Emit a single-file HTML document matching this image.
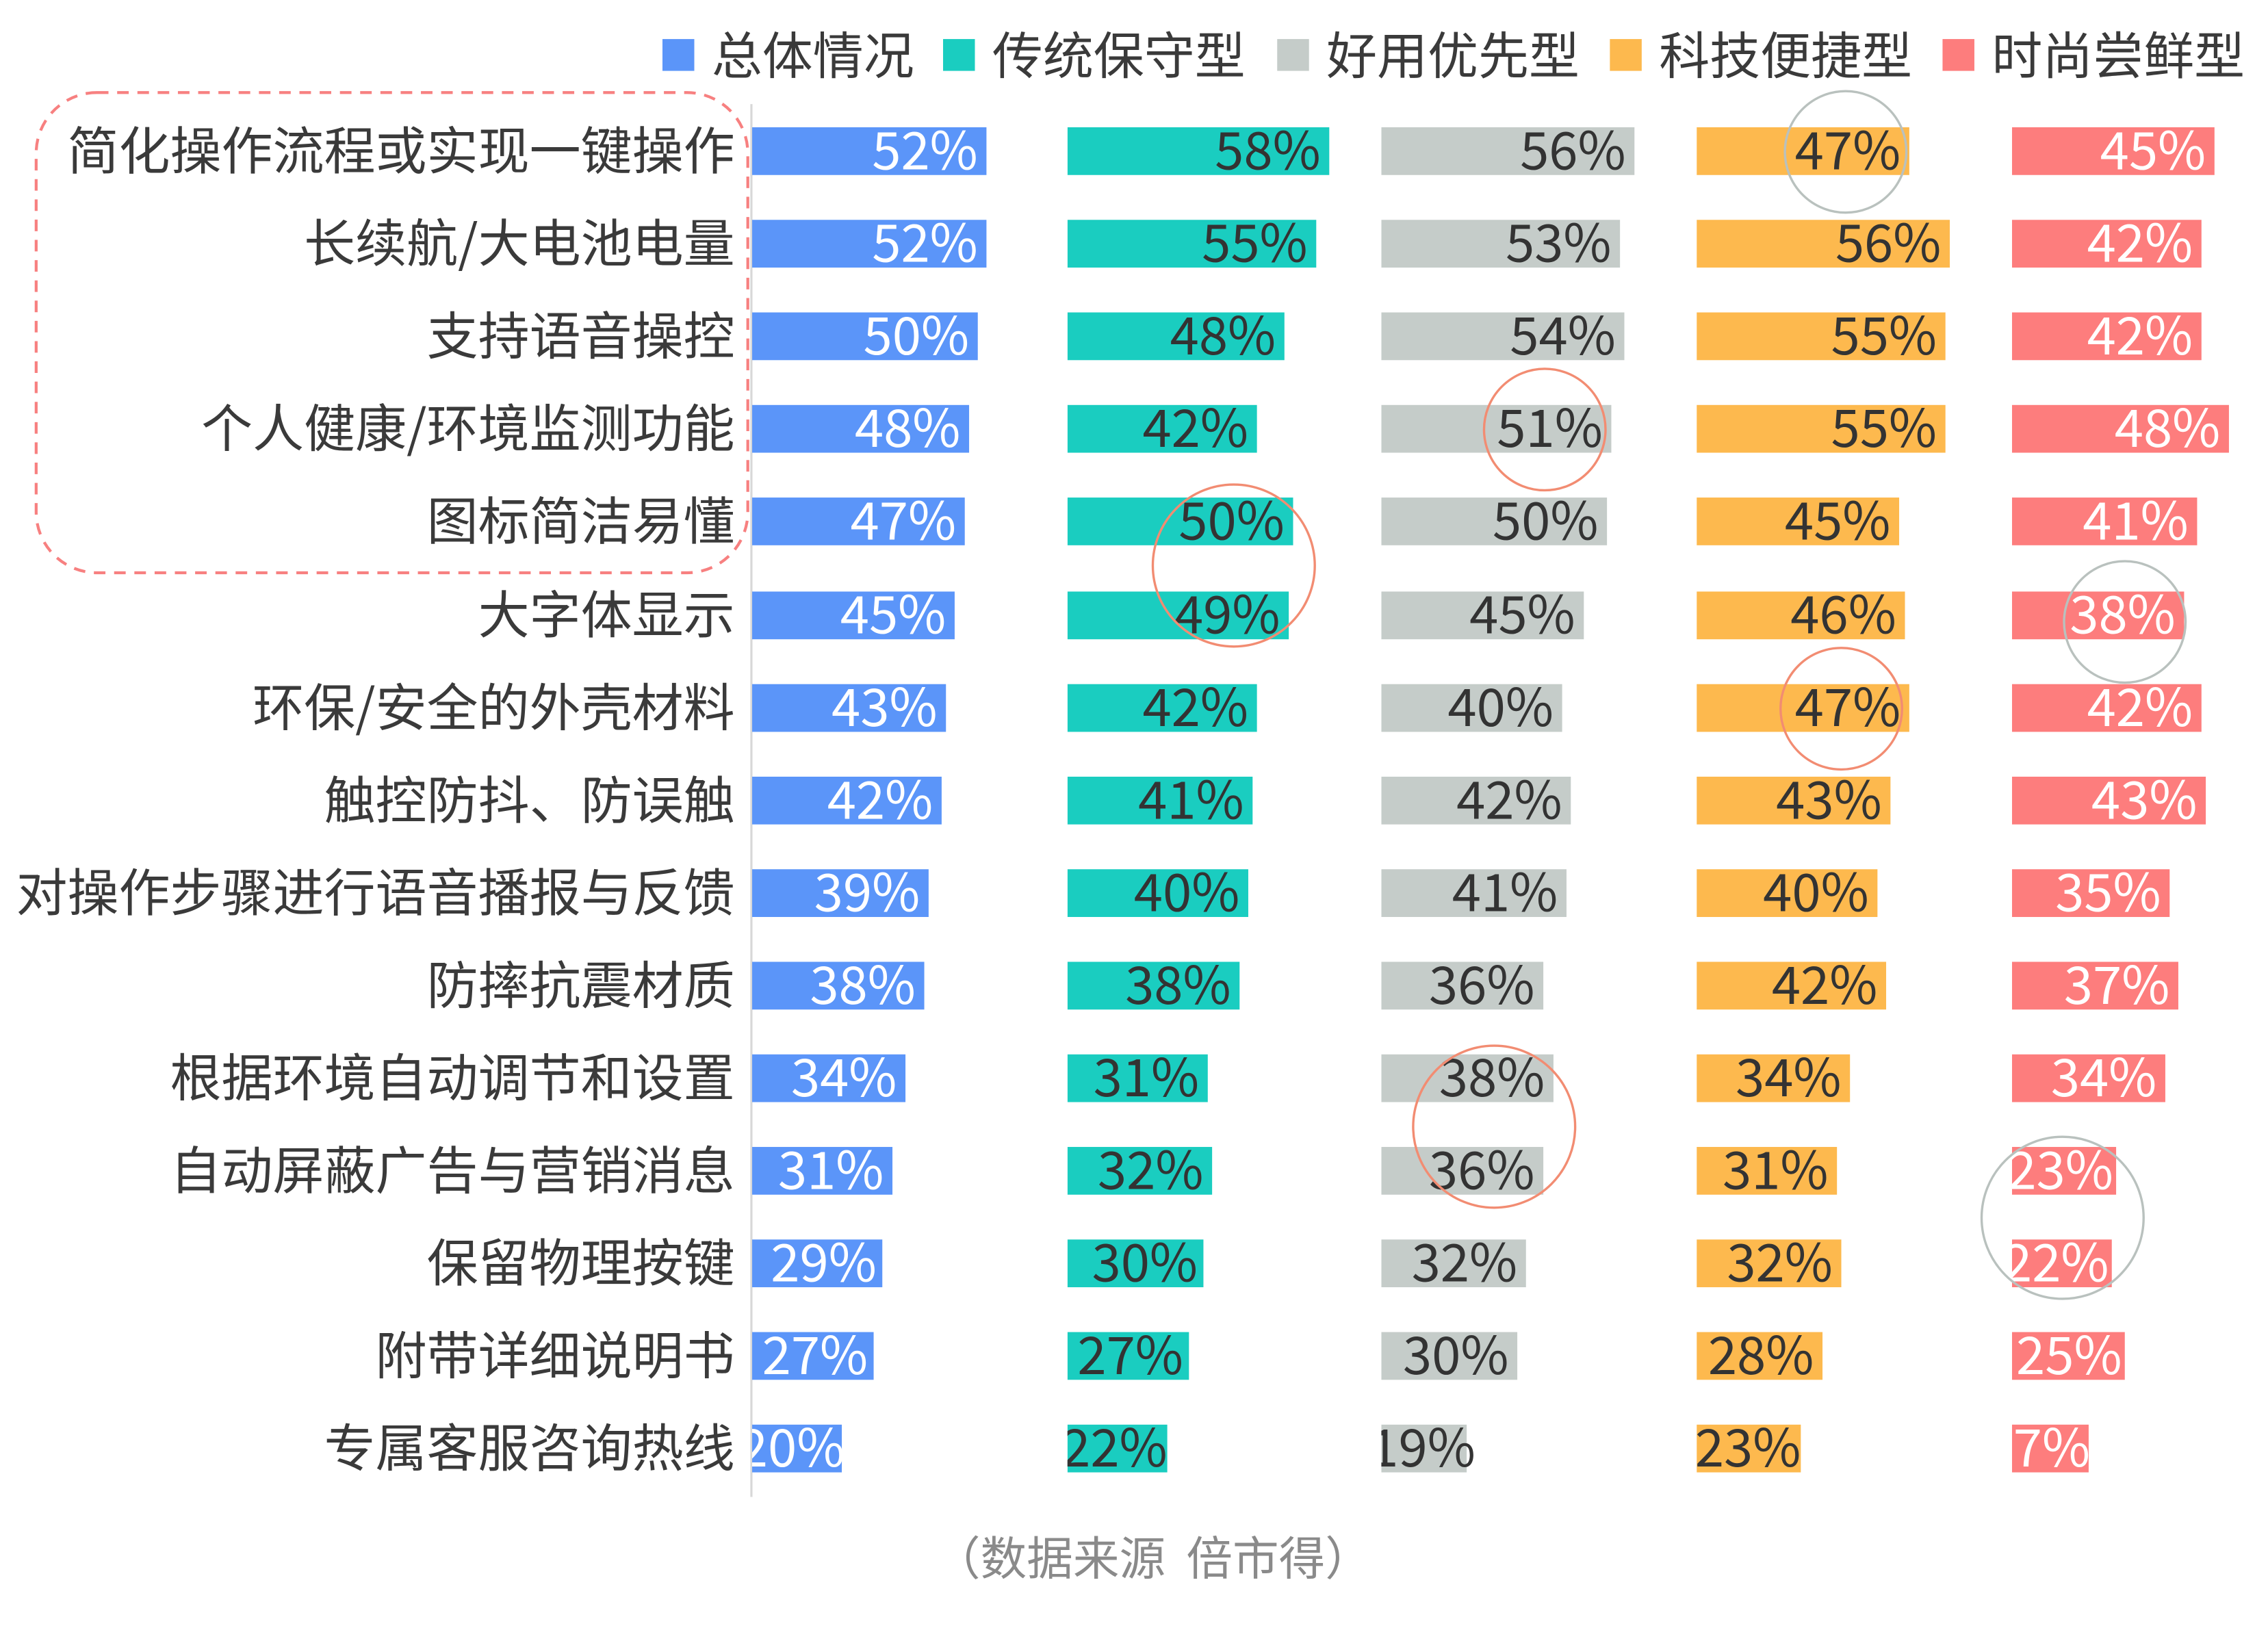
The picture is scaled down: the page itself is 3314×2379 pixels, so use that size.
<!DOCTYPE html>
<html><head><meta charset="utf-8"><style>
html,body{margin:0;padding:0;background:#fff;}
svg{display:block;}
text{font-family:"Noto Sans CJK SC","Liberation Sans",sans-serif;}
.l{font-size:35.5px;fill:#3a3a3a;text-anchor:end;}
.v{font-size:36px;text-anchor:end;}
.w{fill:#fff}.d{fill:#333}
.lg{font-size:35px;fill:#3a3a3a;}
</style></head><body>
<svg width="3314" height="2379" viewBox="0 0 1568 1125.6" xmlns="http://www.w3.org/2000/svg">
<defs>
<clipPath id="c0"><rect x="520" y="0" width="215" height="1120"/></clipPath>
<clipPath id="c1"><rect x="738" y="0" width="215" height="1120"/></clipPath>
<clipPath id="c2"><rect x="955" y="0" width="215" height="1120"/></clipPath>
<clipPath id="c3"><rect x="1173" y="0" width="215" height="1120"/></clipPath>
<clipPath id="c4"><rect x="1391" y="0" width="177" height="1120"/></clipPath>
</defs>
<rect x="458" y="27" width="22" height="22" fill="#5B95F9"/><text class="lg" x="492" y="51">总体情况</text>
<rect x="652" y="27" width="22" height="22" fill="#1ACDC0"/><text class="lg" x="686" y="51">传统保守型</text>
<rect x="883" y="27" width="22" height="22" fill="#C5CCC9"/><text class="lg" x="917" y="51">好用优先型</text>
<rect x="1113" y="27" width="22" height="22" fill="#FDB94E"/><text class="lg" x="1147" y="51">科技便捷型</text>
<rect x="1343" y="27" width="22" height="22" fill="#FD7D7D"/><text class="lg" x="1377" y="51">时尚尝鲜型</text>

<rect x="25" y="64" width="492" height="332" rx="42" fill="none" stroke="#F78080" stroke-width="2" stroke-dasharray="8,6"/>
<line x1="519.5" y1="72" x2="519.5" y2="1035" stroke="#d8d8d8" stroke-width="1.5"/>

<g>
<text class="l" x="508" y="117">简化操作流程或实现一键操作</text>
<text class="l" x="508" y="181">长续航/大电池电量</text>
<text class="l" x="508" y="245">支持语音操控</text>
<text class="l" x="508" y="309">个人健康/环境监测功能</text>
<text class="l" x="508" y="373">图标简洁易懂</text>
<text class="l" x="508" y="438">大字体显示</text>
<text class="l" x="508" y="502">环保/安全的外壳材料</text>
<text class="l" x="508" y="566">触控防抖、防误触</text>
<text class="l" x="508" y="630">对操作步骤进行语音播报与反馈</text>
<text class="l" x="508" y="694">防摔抗震材质</text>
<text class="l" x="508" y="758">根据环境自动调节和设置</text>
<text class="l" x="508" y="822">自动屏蔽广告与营销消息</text>
<text class="l" x="508" y="886">保留物理按键</text>
<text class="l" x="508" y="950">附带详细说明书</text>
<text class="l" x="508" y="1014">专属客服咨询热线</text>
</g>

<g clip-path="url(#c0)" fill="#5B95F9">
<rect x="520" y="88" width="162" height="33"/><rect x="520" y="152" width="162" height="33"/><rect x="520" y="216" width="156" height="33"/><rect x="520" y="280" width="150" height="33"/><rect x="520" y="344" width="147" height="33"/><rect x="520" y="409" width="140" height="33"/><rect x="520" y="473" width="134" height="33"/><rect x="520" y="537" width="131" height="33"/><rect x="520" y="601" width="122" height="33"/><rect x="520" y="665" width="119" height="33"/><rect x="520" y="729" width="106" height="33"/><rect x="520" y="793" width="97" height="33"/><rect x="520" y="857" width="90" height="33"/><rect x="520" y="921" width="84" height="33"/><rect x="520" y="985" width="62" height="33"/>
<g class="v w">
<text x="676" y="117">52%</text><text x="676" y="181">52%</text><text x="670" y="245">50%</text><text x="664" y="309">48%</text><text x="661" y="373">47%</text><text x="654" y="438">45%</text><text x="648" y="502">43%</text><text x="645" y="566">42%</text><text x="636" y="630">39%</text><text x="633" y="694">38%</text><text x="620" y="758">34%</text><text x="611" y="822">31%</text><text x="606" y="886">29%</text><text x="600" y="950">27%</text><text x="584" y="1014">20%</text>
</g></g>

<g clip-path="url(#c1)" fill="#1ACDC0">
<rect x="738" y="88" width="181" height="33"/><rect x="738" y="152" width="172" height="33"/><rect x="738" y="216" width="150" height="33"/><rect x="738" y="280" width="131" height="33"/><rect x="738" y="344" width="156" height="33"/><rect x="738" y="409" width="153" height="33"/><rect x="738" y="473" width="131" height="33"/><rect x="738" y="537" width="128" height="33"/><rect x="738" y="601" width="125" height="33"/><rect x="738" y="665" width="119" height="33"/><rect x="738" y="729" width="97" height="33"/><rect x="738" y="793" width="100" height="33"/><rect x="738" y="857" width="94" height="33"/><rect x="738" y="921" width="84" height="33"/><rect x="738" y="985" width="69" height="33"/>
<g class="v d">
<text x="913" y="117">58%</text><text x="904" y="181">55%</text><text x="882" y="245">48%</text><text x="863" y="309">42%</text><text x="888" y="373">50%</text><text x="885" y="438">49%</text><text x="863" y="502">42%</text><text x="860" y="566">41%</text><text x="857" y="630">40%</text><text x="851" y="694">38%</text><text x="829" y="758">31%</text><text x="832" y="822">32%</text><text x="828" y="886">30%</text><text x="818" y="950">27%</text><text x="807" y="1014">22%</text>
</g></g>

<g clip-path="url(#c2)" fill="#C5CCC9">
<rect x="955" y="88" width="175" height="33"/><rect x="955" y="152" width="165" height="33"/><rect x="955" y="216" width="168" height="33"/><rect x="955" y="280" width="159" height="33"/><rect x="955" y="344" width="156" height="33"/><rect x="955" y="409" width="140" height="33"/><rect x="955" y="473" width="125" height="33"/><rect x="955" y="537" width="131" height="33"/><rect x="955" y="601" width="128" height="33"/><rect x="955" y="665" width="112" height="33"/><rect x="955" y="729" width="119" height="33"/><rect x="955" y="793" width="112" height="33"/><rect x="955" y="857" width="100" height="33"/><rect x="955" y="921" width="94" height="33"/><rect x="955" y="985" width="59" height="33"/>
<g class="v d">
<text x="1124" y="117">56%</text><text x="1114" y="181">53%</text><text x="1117" y="245">54%</text><text x="1108" y="309">51%</text><text x="1105" y="373">50%</text><text x="1089" y="438">45%</text><text x="1074" y="502">40%</text><text x="1080" y="566">42%</text><text x="1077" y="630">41%</text><text x="1061" y="694">36%</text><text x="1068" y="758">38%</text><text x="1061" y="822">36%</text><text x="1049" y="886">32%</text><text x="1043" y="950">30%</text><text x="1020" y="1014">19%</text>
</g></g>

<g clip-path="url(#c3)" fill="#FDB94E">
<rect x="1173" y="88" width="147" height="33"/><rect x="1173" y="152" width="175" height="33"/><rect x="1173" y="216" width="172" height="33"/><rect x="1173" y="280" width="172" height="33"/><rect x="1173" y="344" width="140" height="33"/><rect x="1173" y="409" width="144" height="33"/><rect x="1173" y="473" width="147" height="33"/><rect x="1173" y="537" width="134" height="33"/><rect x="1173" y="601" width="125" height="33"/><rect x="1173" y="665" width="131" height="33"/><rect x="1173" y="729" width="106" height="33"/><rect x="1173" y="793" width="97" height="33"/><rect x="1173" y="857" width="100" height="33"/><rect x="1173" y="921" width="87" height="33"/><rect x="1173" y="985" width="72" height="33"/>
<g class="v d">
<text x="1314" y="117">47%</text><text x="1342" y="181">56%</text><text x="1339" y="245">55%</text><text x="1339" y="309">55%</text><text x="1307" y="373">45%</text><text x="1311" y="438">46%</text><text x="1314" y="502">47%</text><text x="1301" y="566">43%</text><text x="1292" y="630">40%</text><text x="1298" y="694">42%</text><text x="1273" y="758">34%</text><text x="1264" y="822">31%</text><text x="1267" y="886">32%</text><text x="1254" y="950">28%</text><text x="1245" y="1014">23%</text>
</g></g>

<g clip-path="url(#c4)" fill="#FD7D7D">
<rect x="1391" y="88" width="140" height="33"/><rect x="1391" y="152" width="131" height="33"/><rect x="1391" y="216" width="131" height="33"/><rect x="1391" y="280" width="150" height="33"/><rect x="1391" y="344" width="128" height="33"/><rect x="1391" y="409" width="119" height="33"/><rect x="1391" y="473" width="131" height="33"/><rect x="1391" y="537" width="134" height="33"/><rect x="1391" y="601" width="109" height="33"/><rect x="1391" y="665" width="115" height="33"/><rect x="1391" y="729" width="106" height="33"/><rect x="1391" y="793" width="72" height="33"/><rect x="1391" y="857" width="69" height="33"/><rect x="1391" y="921" width="78" height="33"/><rect x="1391" y="985" width="53" height="33"/>
<g class="v w">
<text x="1525" y="117">45%</text><text x="1516" y="181">42%</text><text x="1516" y="245">42%</text><text x="1535" y="309">48%</text><text x="1513" y="373">41%</text><text x="1504" y="438">38%</text><text x="1516" y="502">42%</text><text x="1519" y="566">43%</text><text x="1494" y="630">35%</text><text x="1500" y="694">37%</text><text x="1491" y="758">34%</text><text x="1461" y="822">23%</text><text x="1458" y="886">22%</text><text x="1467" y="950">25%</text><text x="1445" y="1014">17%</text>
</g></g>

<g fill="none" stroke-width="1.6">
<circle cx="1276" cy="105" r="42" stroke="#b9c1be"/>
<circle cx="1068" cy="297" r="42" stroke="#F28C72"/>
<circle cx="853" cy="391" r="56" stroke="#F28C72"/>
<circle cx="1469" cy="430" r="42" stroke="#b9c1be"/>
<circle cx="1273" cy="490" r="42" stroke="#F28C72"/>
<circle cx="1033" cy="779" r="56" stroke="#F28C72"/>
<circle cx="1426" cy="842" r="56" stroke="#b9c1be"/>
</g>

<text x="797" y="1089" text-anchor="middle" style="font-size:32px;fill:#8a8a8a;white-space:pre" xml:space="preserve">（数据来源  倍市得）</text>
</svg>
</body></html>
